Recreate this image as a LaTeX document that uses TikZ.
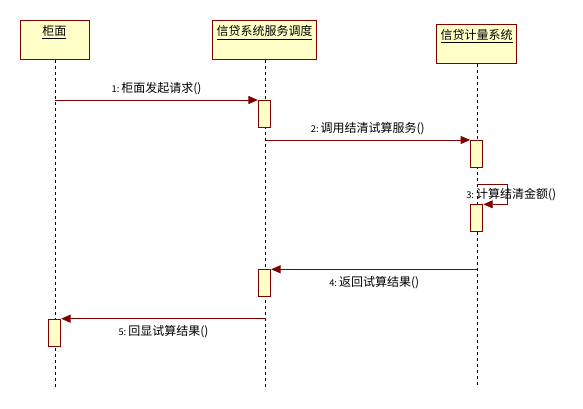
\documentclass[tikz,border=0pt]{standalone}
\usepackage{fontspec}
\setmainfont{Noto Sans CJK SC}
\usetikzlibrary{arrows.meta}
\definecolor{umlred}{HTML}{800000}
\definecolor{umlfill}{HTML}{FFFFC8}
\newcommand{\msgnum}[1]{{\fontsize{7pt}{8pt}\selectfont #1:}\,}
\tikzset{
  objbox/.style={draw=umlred, fill=umlfill, line width=0.75pt, minimum height={39.3*0.75pt}, inner sep=0pt},
  objtitle/.style={anchor=north, inner sep=0pt, font=\fontsize{9pt}{10pt}\selectfont},
  actbox/.style={draw=umlred, fill=umlfill, line width=0.75pt, minimum width={12.4*0.75pt}, minimum height={27*0.75pt}, inner sep=0pt, anchor=north},
  lifeline/.style={draw=black, line width=0.6pt, dash pattern=on 2.25pt off 2.25pt},
  msg/.style={draw=umlred, line width=0.6pt, -{Triangle[length=7pt,width=6pt]}},
  msglabel/.style={inner sep=0pt, font=\fontsize{9pt}{10pt}\selectfont}
}
\begin{document}
\begin{tikzpicture}[x=0.75pt, y=-0.75pt]
\useasboundingbox (0,0) rectangle (583,408);
% objects
\node[objbox, minimum width={69*0.75pt}] (A) at (54.5,39.65) {};
\node[objbox, minimum width={104.4*0.75pt}] (B) at (264.5,39.65) {};
\node[objbox, minimum width={80*0.75pt}] (C) at (476.7,43.65) {};
\node[objtitle] (At) at ([yshift=-4.5pt]A.north) {\underline{柜面}};
\node[objtitle] (Bt) at ([yshift=-4.5pt]B.north) {\underline{信贷系统服务调度}};
\node[objtitle] (Ct) at ([yshift=-4.5pt]C.north) {\underline{信贷计量系统}};
% lifeline ends
\coordinate (Ae) at (55.3,387);
\coordinate (Be) at (265.7,387);
\coordinate (Ce) at (477.3,387);
\draw[lifeline] (A.south -| Ae) -- (Ae);
\draw[lifeline] (B.south -| Be) -- (Be);
\draw[lifeline] (C.south -| Ce) -- (Ce);
% activations
\node[actbox] (b1) at (264.5,100) {};
\node[actbox] (c1) at (476.7,140) {};
\node[actbox] (c2) at (476.7,204.3) {};
\node[actbox] (b2) at (264.5,269.3) {};
\node[actbox] (a2) at (54.5,318.7) {};
% messages
\draw[msg] (Ae |- b1.north) -- node[msglabel, above=3.5pt] (l1) {\msgnum{1}柜面发起请求()} (b1.north west);
\draw[msg] (Be |- c1.north) -- node[msglabel, above=3.5pt] (l2) {\msgnum{2}调用结清试算服务()} (c1.north west);
\coordinate (s1) at (507.7,184.3);
\coordinate (s2) at (507.7,204.3);
\draw[msg] (Ce |- s1) -- (s1) -- (s2) -- (c2.north east);
\node[msglabel, anchor=west] (l3) at (466,194.3) {\msgnum{3}计算结清金额()};
\draw[msg] (Ce |- b2.north) -- node[msglabel, below=5pt] (l4) {\msgnum{4}返回试算结果()} (b2.north east);
\draw[msg] (Be |- a2.north) -- node[msglabel, below=5pt] (l5) {\msgnum{5}回显试算结果()} (a2.north east);
\end{tikzpicture}
\end{document}
